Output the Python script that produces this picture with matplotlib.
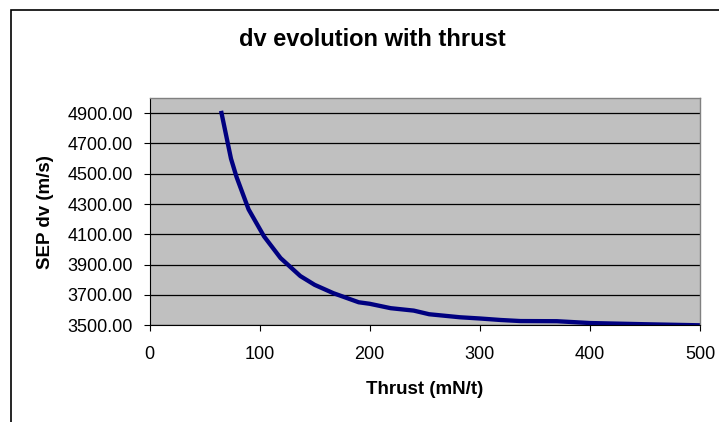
import matplotlib
matplotlib.use('Agg')
import matplotlib.pyplot as plt
import matplotlib.ticker as mtick
from matplotlib.patches import Rectangle

# Dados
thrust = [65, 74, 79, 90, 104, 119, 137, 150, 167, 190, 200, 219, 240, 254,
          282, 300, 319, 337, 370, 400, 450, 500]
dv = [4915, 4600, 4480, 4265, 4087, 3944, 3825, 3767, 3712, 3652, 3642, 3613,
      3597, 3573, 3553, 3545, 3535, 3528, 3527, 3515, 3507, 3500]

x_ticks = [0, 100, 200, 300, 400, 500]
y_ticks = [3500, 3700, 3900, 4100, 4300, 4500, 4700, 4900]

plt.rcParams['font.family'] = ['Liberation Sans', 'DejaVu Sans']

W, H = 719, 422
fig = plt.figure(figsize=(W / 100, H / 100), dpi=100)

# moldura do gráfico (estilo Excel)
fig.patches.append(Rectangle((11 / W, -0.1), 1.2, 1.1 - 10 / H,
                             transform=fig.transFigure, fill=False,
                             edgecolor='black', linewidth=1.2))

ax = fig.add_axes([149.5 / W, (H - 325.3) / H, (700 - 149.5) / W, (325.3 - 98) / H])
ax.set_facecolor('#C0C0C0')

ax.plot(thrust, dv, color='#000080', linewidth=3.1, solid_joinstyle='round',
        solid_capstyle='butt')

ax.set_xlim(0, 500)
ax.set_ylim(3500, 5000)
ax.set_xticks(x_ticks)
ax.set_yticks(y_ticks)
ax.yaxis.set_major_formatter(mtick.FormatStrFormatter('%.2f'))
ax.grid(True, axis='y', color='black', linewidth=0.9)
ax.set_axisbelow(True)

ax.tick_params(axis='both', direction='out', length=4, width=0.8, color='black',
               labelsize=13)
ax.tick_params(axis='y', pad=8)
ax.tick_params(axis='x', pad=11)

for lado in ['top', 'right']:
    ax.spines[lado].set_color('#808080')
    ax.spines[lado].set_linewidth(1.0)
for lado in ['left', 'bottom']:
    ax.spines[lado].set_color('black')
    ax.spines[lado].set_linewidth(0.8)

fig.text(372 / W, 1 - 40 / H, 'dv evolution with thrust', ha='center', va='center',
         fontsize=17, fontweight='bold')
fig.text(425 / W, 1 - 389 / H, 'Thrust (mN/t)', ha='center', va='center',
         fontsize=13.5, fontweight='bold')
fig.text(45 / W, 1 - 212 / H, 'SEP dv (m/s)', ha='center', va='center',
         rotation=90, fontsize=13.5, fontweight='bold')

fig.savefig('out.png', dpi=100)
